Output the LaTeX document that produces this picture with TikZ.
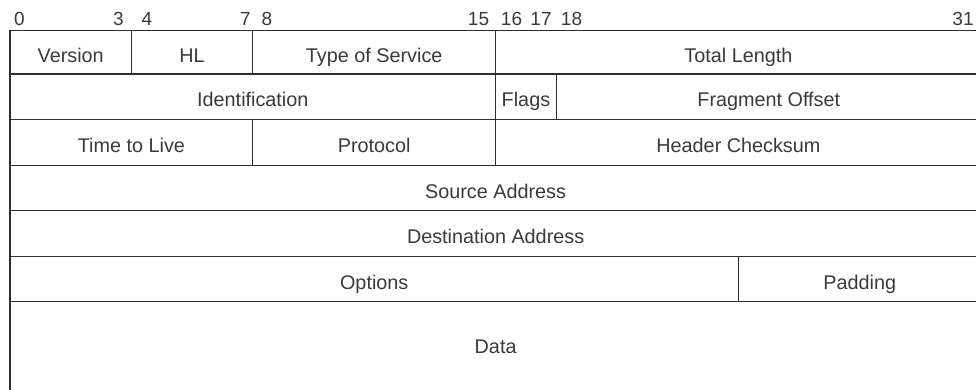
\documentclass[tikz,border=0pt]{standalone}
\usepackage{fontspec}
\setmainfont{Liberation Sans}
\definecolor{ln}{HTML}{2E2E2E}
\definecolor{tx}{HTML}{3A3A3A}
\newcommand\ipfield[7][]{%
  \pgfmathsetmacro\ipfx{10+(#3+#4)/2*30.35}%
  \pgfmathsetmacro\ipfy{(#5+#6)/2}%
  \pgfmathsetmacro\ipfw{(#4-#3)*30.35}%
  \pgfmathsetmacro\ipfh{#6-#5}%
  \node[field, minimum width=\ipfw pt, minimum height=\ipfh pt, #1] (#2) at (\ipfx,\ipfy) {#7};}
\newcommand\ipbit[2]{%
  \node[bitnum] (b#1) at (#2,25) {#1};}
\begin{document}
\begin{tikzpicture}[x=1pt,y=-1pt,
  field/.style={draw=ln, line width=1.3pt, inner sep=0pt, outer sep=0pt,
    font=\fontsize{19.8}{19.8}\selectfont, text=tx, text height=19.8pt, text depth=0pt},
  bitnum/.style={font=\fontsize{19}{19}\selectfont, text=tx, anchor=base, inner sep=0pt}]
\useasboundingbox (0,0) rectangle (976,389);
\clip (0,0) rectangle (976,389);
\fill[white] (0,0) rectangle (976,389);
\ipbit{0}{19.5}\ipbit{3}{118.5}\ipbit{4}{147}\ipbit{7}{245.5}\ipbit{8}{267}
\ipbit{15}{478.5}\ipbit{16}{511.5}\ipbit{17}{541}\ipbit{18}{571.5}\ipbit{31}{963}
\ipfield{ver}{0}{4}{30.5}{74}{Version}
\ipfield{hl}{4}{8}{30.5}{74}{HL}
\ipfield{tos}{8}{16}{30.5}{74}{Type of Service}
\ipfield{tl}{16}{32}{30.5}{74}{Total Length}
\ipfield{id}{0}{16}{74}{119.3}{Identification}
\ipfield{flags}{16}{18}{74}{119.3}{Flags}
\ipfield{frag}{18}{32}{74}{119.3}{Fragment Offset}
\ipfield{ttl}{0}{8}{119.3}{165.7}{Time to Live}
\ipfield{proto}{8}{16}{119.3}{165.7}{Protocol}
\ipfield{csum}{16}{32}{119.3}{165.7}{Header Checksum}
\ipfield{src}{0}{32}{165.7}{210.7}{Source Address}
\ipfield{dst}{0}{32}{210.7}{256.7}{Destination Address}
\ipfield{opt}{0}{24}{256.7}{301.7}{Options}
\ipfield{pad}{24}{32}{256.7}{301.7}{Padding}
\ipfield[text height=14.2pt]{data}{0}{32}{301.7}{390.5}{Data}
\end{tikzpicture}
\end{document}
